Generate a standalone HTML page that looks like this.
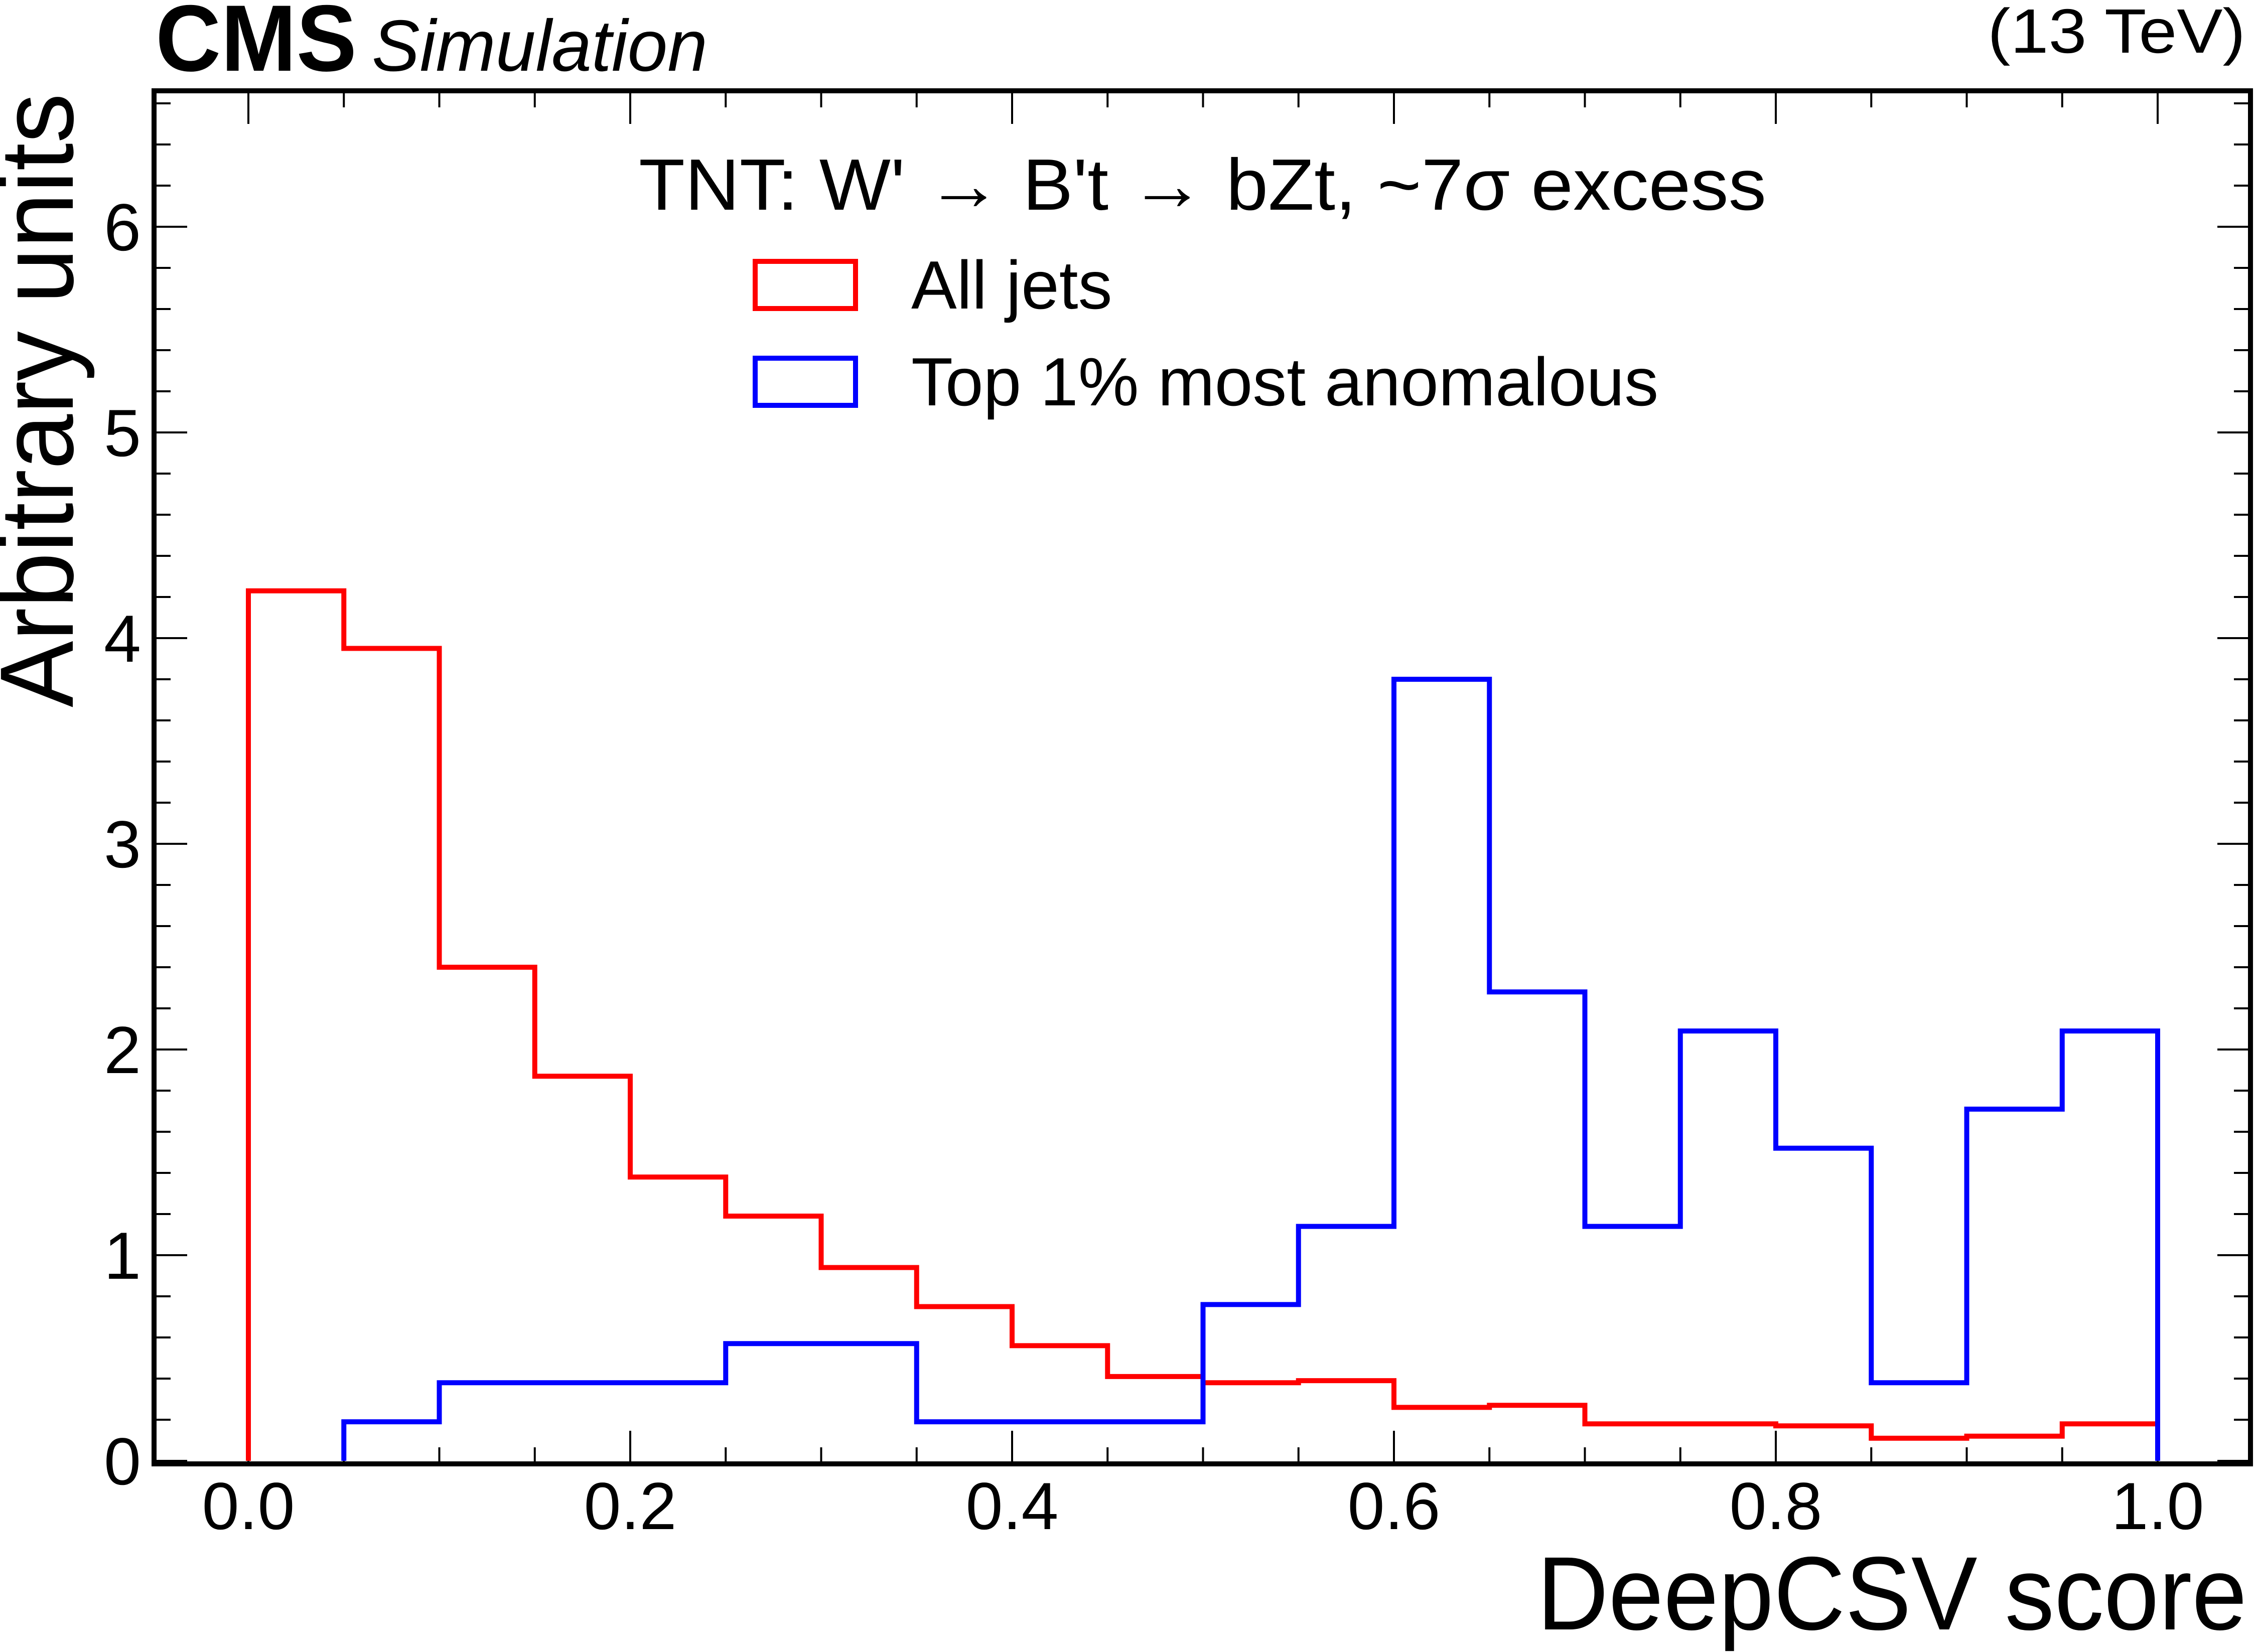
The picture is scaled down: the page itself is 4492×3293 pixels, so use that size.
<!DOCTYPE html>
<html><head><meta charset="utf-8"><style>html,body{margin:0;padding:0;background:#fff}svg{display:block}</style></head>
<body>
<svg id="chart" width="4492" height="3293" viewBox="0 0 4492 3293" xmlns="http://www.w3.org/2000/svg" font-family="'Liberation Sans', Arial, sans-serif">
<rect width="4492" height="3293" fill="#fff"/>
<g id="ticks"></g>
<g id="hists"></g>
<rect x="307" y="181" width="4178" height="2737" fill="none" stroke="#000" stroke-width="10"/>
<g id="labels" font-size="133"></g>
<text x="310" y="141" font-size="188" font-weight="bold" textLength="401" lengthAdjust="spacingAndGlyphs">CMS</text>
<text x="741" y="141" font-size="145" font-style="italic" textLength="669" lengthAdjust="spacingAndGlyphs">Simulation</text>
<text x="4475" y="105" font-size="125" text-anchor="end" textLength="514" lengthAdjust="spacingAndGlyphs">(13 TeV)</text>
<text x="1273" y="418" font-size="145" textLength="2247" lengthAdjust="spacingAndGlyphs">TNT: W' → B't → bZt, ~7σ excess</text>
<rect x="1505" y="521" width="200" height="94" fill="none" stroke="#ff0000" stroke-width="10"/>
<text x="1816" y="615" font-size="136">All jets</text>
<rect x="1505" y="714" width="200" height="94" fill="none" stroke="#0000ff" stroke-width="10"/>
<text x="1816" y="808" font-size="136">Top 1% most anomalous</text>
<text x="4478" y="3248" font-size="208" text-anchor="end" textLength="1415" lengthAdjust="spacingAndGlyphs">DeepCSV score</text>
<text transform="translate(145,186) rotate(-90)" font-size="208" text-anchor="end" textLength="1224" lengthAdjust="spacingAndGlyphs">Arbitrary units</text>
</svg>
<script>
const binEdges = [0,0.05,0.1,0.15,0.2,0.25,0.3,0.35,0.4,0.45,0.5,0.55,0.6,0.65,0.7,0.75,0.8,0.85,0.9,0.95,1.0];
const allJets = [4.23,3.95,2.40,1.87,1.38,1.19,0.94,0.75,0.56,0.41,0.38,0.39,0.26,0.27,0.18,0.18,0.17,0.11,0.12,0.18];
const topAnomalous = [0,0.19,0.38,0.38,0.38,0.57,0.57,0.19,0.19,0.19,0.76,1.14,3.80,2.28,1.14,2.09,1.52,0.38,1.71,2.09];
const xTickLabels = ["0.0","0.2","0.4","0.6","0.8","1.0"];
const yTickLabels = ["0","1","2","3","4","5","6"];
const NS = "http://www.w3.org/2000/svg";
const X = v => 495 + v * 3805;
const Y = v => 2912 - v * 410;
const ticks = document.getElementById('ticks');
const labels = document.getElementById('labels');
function line(x1,y1,x2,y2,name){
  const l = document.createElementNS(NS,'line');
  l.setAttribute('x1',x1);l.setAttribute('y1',y1);l.setAttribute('x2',x2);l.setAttribute('y2',y2);
  l.setAttribute('stroke','#000');l.setAttribute('stroke-width','4');
  
  
  ticks.appendChild(l);
}
for (let i = -1; i <= 21; i++) {
  const v = i * 0.05, x = X(v);
  if (x < 310 || x > 4482) continue;
  const major = i % 4 === 0;
  const len = major ? 61 : 28;
  line(x, 2913, x, 2913 - len, major ? 'x-major-tick' : 'x-minor-tick');
  line(x, 186, x, 186 + len, major ? 'x-major-tick-top' : 'x-minor-tick-top');
}
for (let i = 0; i <= 33; i++) {
  const v = i * 0.2, y = Y(v);
  if (y < 188) continue;
  const major = i % 5 === 0;
  const len = major ? 61 : 28;
  line(312, y, 312 + len, y, major ? 'y-major-tick' : 'y-minor-tick');
  line(4480, y, 4480 - len, y, major ? 'y-major-tick-right' : 'y-minor-tick-right');
}
xTickLabels.forEach((t, i) => {
  const el = document.createElementNS(NS,'text');
  el.setAttribute('x', X(parseFloat(t)));
  el.setAttribute('y', 3048);
  el.setAttribute('text-anchor','middle');
  el.textContent = t;
  
  
  labels.appendChild(el);
});
yTickLabels.forEach((t, i) => {
  const el = document.createElementNS(NS,'text');
  el.setAttribute('x', 281);
  el.setAttribute('y', Y(parseFloat(t)) + 47);
  el.setAttribute('text-anchor','end');
  el.textContent = t;
  
  
  labels.appendChild(el);
});
function hist(vals, color, name){
  let start = 0;
  while (start < vals.length - 1 && vals[start] === 0) start++;
  let d = 'M' + X(binEdges[start]) + ' ' + Y(0);
  for (let i = start; i < vals.length; i++) {
    const v = vals[i];
    d += ' L' + X(binEdges[i]) + ' ' + Y(v) + ' L' + X(binEdges[i+1]) + ' ' + Y(v);
  }
  d += ' L' + X(binEdges[binEdges.length-1]) + ' ' + Y(0);
  const p = document.createElementNS(NS,'path');
  p.setAttribute('d', d);
  p.setAttribute('fill','none');
  p.setAttribute('stroke', color);
  p.setAttribute('stroke-width','10');
  p.setAttribute('stroke-linejoin','miter');
  
  
  document.getElementById('hists').appendChild(p);
}
hist(allJets, '#ff0000', 'all-jets-histogram');
hist(topAnomalous, '#0000ff', 'top-1pct-histogram');
</script>
</body></html>
